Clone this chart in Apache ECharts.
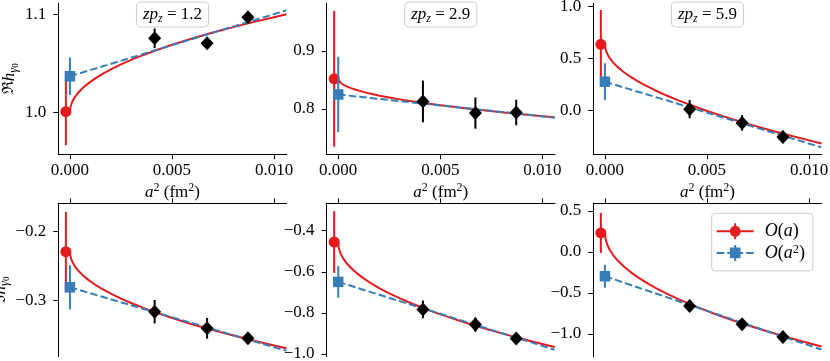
<!DOCTYPE html>
<html>
<head>
<meta charset="utf-8">
<script src="https://cdn.jsdelivr.net/npm/echarts@6/dist/echarts.min.js"></script>
<style>
  html, body { margin: 0; padding: 0; background: #fff; }
  #chart { width: 830px; height: 361px; }
</style>
</head>
<body>
<div id="chart"></div>
<script>
// panel order: Re zpz=1.2, Re 2.9, Re 5.9, Im 1.2, Im 2.9, Im 5.9
const zpzLabels = ['1.2', '2.9', '5.9']
const latticeA2 = [0.00415, 0.00672, 0.00872]
const latticeVal = [
  [1.0756, 1.0705, 1.097],
  [0.813, 0.793, 0.794],
  [0.015, -0.117, -0.252],
  [-0.316, -0.340, -0.3545],
  [-0.783, -0.857, -0.925],
  [-0.658, -0.882, -1.037]
]
const latticeErr = [
  [0.010, 0.004, 0.004],
  [0.036, 0.027, 0.022],
  [0.088, 0.075, 0.060],
  [0.017, 0.015, 0.006],
  [0.043, 0.035, 0.020],
  [0.040, 0.040, 0.040]
]
// continuum extrapolations, O(a) (red) slightly left of 0, O(a^2) (blue) at 0
const oaX = -0.0002
const oa2X = 0.0
const oaVal = [1.001, 0.852, 0.638, -0.229, -0.455, 0.232]
const oaErr = [0.034, 0.117, 0.33, 0.058, 0.15, 0.244]
const oa2Val = [1.037, 0.825, 0.279, -0.2806, -0.649, -0.296]
const oa2Err = [0.019, 0.065, 0.177, 0.032, 0.077, 0.14]

const fitX = [0, 0.000025, 0.0001, 0.000225, 0.0004, 0.000625, 0.0009, 0.001225, 0.0016, 0.002025, 0.0025,
  0.003025, 0.0036, 0.004225, 0.0049, 0.005625, 0.0064, 0.007225, 0.0081, 0.009025, 0.01, 0.010609]
const oaCurve = [
  [1.001, 1.0058, 1.0106, 1.0154, 1.0202, 1.025, 1.0298, 1.0346, 1.0394, 1.0442, 1.0491,
    1.0539, 1.0587, 1.0635, 1.0683, 1.0731, 1.0779, 1.0827, 1.0875, 1.0923, 1.0971, 1.100],
  [0.852, 0.8488, 0.8456, 0.8423, 0.8391, 0.8359, 0.8327, 0.8295, 0.8263, 0.823, 0.8198,
    0.8166, 0.8134, 0.8102, 0.8069, 0.8037, 0.8005, 0.7973, 0.7941, 0.7908, 0.7876, 0.7857],
  [0.638, 0.5948, 0.5514, 0.5076, 0.4635, 0.4191, 0.3743, 0.3293, 0.2839, 0.2382, 0.1923,
    0.1459, 0.0993, 0.0524, 0.0051, -0.0424, -0.0903, -0.1385, -0.187, -0.2359, -0.285, -0.3146],
  [-0.229, -0.2358, -0.2426, -0.2494, -0.2562, -0.263, -0.2698, -0.2766, -0.2834, -0.2902, -0.297,
    -0.3037, -0.3105, -0.3173, -0.3241, -0.3309, -0.3377, -0.3445, -0.3513, -0.3581, -0.3649, -0.369],
  [-0.4585, -0.4831, -0.5078, -0.5324, -0.557, -0.5817, -0.6063, -0.6309, -0.6556, -0.6802, -0.7049,
    -0.7295, -0.7541, -0.7788, -0.8034, -0.828, -0.8527, -0.8773, -0.9019, -0.9266, -0.9512, -0.966],
  [0.232, 0.1648, 0.0975, 0.0303, -0.037, -0.1043, -0.1715, -0.2388, -0.306, -0.3733, -0.4405,
    -0.5078, -0.575, -0.6423, -0.7095, -0.7768, -0.844, -0.9113, -0.9785, -1.0458, -1.113, -1.1534]
]
// O(a^2) fits are straight lines in a^2
const lineX = [0, 0.0106]
const oa2Line = [
  [1.037, 1.104],
  [0.825, 0.785],
  [0.279, -0.352],
  [-0.2806, -0.3725],
  [-0.649, -0.979],
  [-0.296, -1.19]
]

const xTicks = [0, 0.005, 0.01]
const yTicks = [
  [1.0, 1.1],
  [0.8, 0.9],
  [0.0, 0.5, 1.0],
  [-0.3, -0.2],
  [-1.0, -0.8, -0.6, -0.4],
  [-1.0, -0.5, 0.0, 0.5]
]
const xRange = [-0.00057, 0.01062]
const yRange = [
  [0.9577, 1.1112],
  [0.7219, 0.9822],
  [-0.419, 1.0327],
  [-0.3812, -0.1588],
  [-1.0131, -0.2667],
  [-1.277, 0.594]
]

const RED = '#e41a1c'
const BLUE = '#377eb8'
const SERIF = '"Liberation Serif", "Times New Roman", serif'
const FS = 17

const colLeft = [58.3, 326.6, 593.3]
const colWidth = 228.4
const rowTop = [3.3, 203.3]
const rowHeight = [151, 153.4]

const chart = echarts.init(document.getElementById('chart'), null, { renderer: 'canvas' })

const fmtY = v => (v < -1e-9 ? '\u2212' : '') + Math.abs(v).toFixed(1)

const grids = []
const xAxes = []
const yAxes = []
const series = []

const richBase = {
  i: { fontFamily: SERIF, fontStyle: 'italic', fontSize: FS, lineHeight: 20, color: '#000' },
  n: { fontFamily: SERIF, fontSize: FS, lineHeight: 20, color: '#000' },
  sup: { fontFamily: SERIF, fontSize: 12, lineHeight: 10, verticalAlign: 'top', color: '#000' }
}

function errBars(p, xs, ys, es, color, z) {
  return {
    type: 'custom',
    xAxisIndex: p,
    yAxisIndex: p,
    z: z,
    silent: true,
    clip: false,
    data: xs.map((x, i) => [x, ys[i] - es[i], ys[i] + es[i]]),
    encode: { x: 0, y: [1, 2] },
    renderItem: (params, api) => {
      const lo = api.coord([api.value(0), api.value(1)])
      const hi = api.coord([api.value(0), api.value(2)])
      return {
        type: 'line',
        shape: { x1: lo[0], y1: lo[1], x2: hi[0], y2: hi[1] },
        style: { stroke: color, lineWidth: 2 }
      }
    }
  }
}

for (let p = 0; p < 6; p++) {
  const row = p < 3 ? 0 : 1
  const col = p % 3
  grids.push({
    left: colLeft[col], top: rowTop[row], width: colWidth, height: rowHeight[row],
    containLabel: false, outerBoundsMode: 'none'
  })
  xAxes.push({
    type: 'value', gridIndex: p, min: xRange[0], max: xRange[1],
    position: row === 0 ? 'bottom' : 'top',
    axisLine: { show: true, onZero: false, lineStyle: { color: '#000', width: 1 } },
    axisTick: { show: true, length: 5, customValues: xTicks, lineStyle: { color: '#000', width: 1 } },
    axisLabel: {
      show: row === 0, customValues: xTicks, margin: 8,
      formatter: v => v.toFixed(3), color: '#000', fontFamily: SERIF, fontSize: FS
    },
    splitLine: { show: false },
    name: row === 0 ? '{i|a}{sup|2}{n| (fm}{sup|2}{n|)}' : '',
    nameLocation: 'middle', nameGap: 28,
    nameTextStyle: { rich: richBase }
  })
  // the lower label sits a little below the middle of its axis
  const yName = col !== 0 ? '' :
    '{r|' + (row === 0 ? '\u211C' : '\u2111') + '}{h|h}{s|\u03B3}' + (row === 0 ? '{ss|0}' : '{ssb|0}')
  yAxes.push({
    type: 'value', gridIndex: p, min: yRange[p][0], max: yRange[p][1],
    axisLine: { show: true, onZero: false, lineStyle: { color: '#000', width: 1 } },
    axisTick: { show: true, length: 5, customValues: yTicks[p], lineStyle: { color: '#000', width: 1 } },
    axisLabel: {
      customValues: yTicks[p], margin: 12, formatter: fmtY,
      color: '#000', fontFamily: SERIF, fontSize: FS
    },
    splitLine: { show: false },
    name: yName, nameLocation: 'middle', nameGap: 38,
    nameTextStyle: {
      rich: {
        r: { fontFamily: '"DejaVu Serif", serif', fontSize: 15.5, lineHeight: 22, color: '#000' },
        h: { fontFamily: SERIF, fontStyle: 'italic', fontSize: FS, lineHeight: 22, color: '#000' },
        s: { fontFamily: SERIF, fontStyle: 'italic', fontSize: 12.5, lineHeight: 12, verticalAlign: 'bottom', color: '#000' },
        ss: { fontFamily: SERIF, fontSize: 9, lineHeight: 6, verticalAlign: 'bottom', color: '#000' },
        ssb: { fontFamily: SERIF, fontSize: 9, lineHeight: 6, verticalAlign: 'bottom', color: '#000', padding: [0, 20, 0, 0] }
      }
    }
  })

  series.push({
    type: 'line', name: 'O(a)', xAxisIndex: p, yAxisIndex: p, z: 2,
    data: fitX.map((x, i) => [x, oaCurve[p][i]]),
    showSymbol: false, symbol: 'none',
    lineStyle: { color: RED, width: 2, join: 'round' }, itemStyle: { color: RED },
    silent: true, emphasis: { disabled: true }
  })
  series.push({
    type: 'line', name: 'O(a2)', xAxisIndex: p, yAxisIndex: p, z: 3,
    data: lineX.map((x, i) => [x, oa2Line[p][i]]),
    showSymbol: false, symbol: 'none',
    lineStyle: { color: BLUE, width: 2, type: [7.4, 3.2] }, itemStyle: { color: BLUE },
    silent: true, emphasis: { disabled: true }
  })
  series.push(errBars(p, [oaX], [oaVal[p]], [oaErr[p]], RED, 4))
  series.push({
    type: 'scatter', name: 'O(a)', xAxisIndex: p, yAxisIndex: p, z: 5,
    data: [[oaX, oaVal[p]]], symbol: 'circle', symbolSize: 11,
    itemStyle: { color: RED, opacity: 1 }, silent: true, emphasis: { disabled: true }
  })
  series.push(errBars(p, [oa2X], [oa2Val[p]], [oa2Err[p]], BLUE, 6))
  series.push({
    type: 'scatter', name: 'O(a2)', xAxisIndex: p, yAxisIndex: p, z: 7,
    data: [[oa2X, oa2Val[p]]], symbol: 'rect', symbolSize: 10.5,
    itemStyle: { color: BLUE, opacity: 1 }, silent: true, emphasis: { disabled: true }
  })
  series.push(errBars(p, latticeA2, latticeVal[p], latticeErr[p], '#000', 8))
  series.push({
    type: 'scatter', name: 'lattice', xAxisIndex: p, yAxisIndex: p, z: 9,
    data: latticeA2.map((x, i) => [x, latticeVal[p][i]]), symbol: 'diamond', symbolSize: [13, 14],
    itemStyle: { color: '#000', opacity: 1 }, silent: true, emphasis: { disabled: true }
  })
}

// zp_z boxes at the top of the upper panels
const graphics = zpzLabels.map((lab, c) => ({
  type: 'text',
  x: colLeft[c] + colWidth / 2,
  y: 2.5,
  z: 20,
  style: {
    text: '{i|zp}{s|z}{n| = ' + lab + '}',
    align: 'center',
    verticalAlign: 'top',
    backgroundColor: '#fff',
    borderColor: '#cccccc',
    borderWidth: 1,
    borderRadius: 4,
    padding: [3, 6, 2, 6],
    rich: {
      i: { fontFamily: SERIF, fontStyle: 'italic', fontSize: FS, lineHeight: 19, fill: '#000' },
      s: { fontFamily: SERIF, fontStyle: 'italic', fontSize: 12, lineHeight: 10, verticalAlign: 'bottom', fill: '#000' },
      n: { fontFamily: SERIF, fontSize: FS, lineHeight: 19, fill: '#000' }
    }
  }
}))

// legend handles: line + marker + error bar
const redIcon = 'path://M0 7H37V9H0Z M17.5 0H19.5V16H17.5Z M13 8A5.5 5.5 0 1 1 24 8A5.5 5.5 0 1 1 13 8Z'
const blueIcon = 'path://M0 7H7.4V9H0Z M10.6 7H13.5V9H10.6Z M23.5 7H26.4V9H23.5Z M29.6 7H37V9H29.6Z M13.2 2.7H23.8V13.3H13.2Z M17.5 0H19.5V16H17.5Z'

chart.setOption({
  animation: false,
  backgroundColor: '#fff',
  grid: grids,
  xAxis: xAxes,
  yAxis: yAxes,
  series: series,
  graphic: graphics,
  legend: {
    orient: 'vertical',
    left: 711.7,
    top: 213.3,
    itemWidth: 37,
    itemHeight: 16,
    itemGap: 2.6,
    padding: [9, 8, 9, 5],
    backgroundColor: 'rgba(255,255,255,0.8)',
    borderColor: '#cccccc',
    borderWidth: 1,
    borderRadius: 3,
    selectedMode: false,
    itemStyle: { borderWidth: 0 },
    data: [
      { name: 'O(a)', icon: redIcon },
      { name: 'O(a2)', icon: blueIcon }
    ],
    formatter: n => n === 'O(a)'
      ? '{o|O}{n|(}{i|a}{n|)}'
      : '{o|O}{n|(}{i|a}{sup|2}{n|)}',
    textStyle: {
      fontFamily: SERIF, fontSize: 18, color: '#000',
      rich: {
        o: { fontFamily: SERIF, fontStyle: 'italic', fontSize: 18, lineHeight: 20, color: '#000', padding: [0, 0, 0, 6] },
        i: { fontFamily: SERIF, fontStyle: 'italic', fontSize: 18, lineHeight: 20, color: '#000' },
        n: { fontFamily: SERIF, fontSize: 18, lineHeight: 20, color: '#000' },
        sup: { fontFamily: SERIF, fontSize: 12.5, lineHeight: 10, verticalAlign: 'top', color: '#000' }
      }
    }
  }
})
</script>
</body>
</html>
